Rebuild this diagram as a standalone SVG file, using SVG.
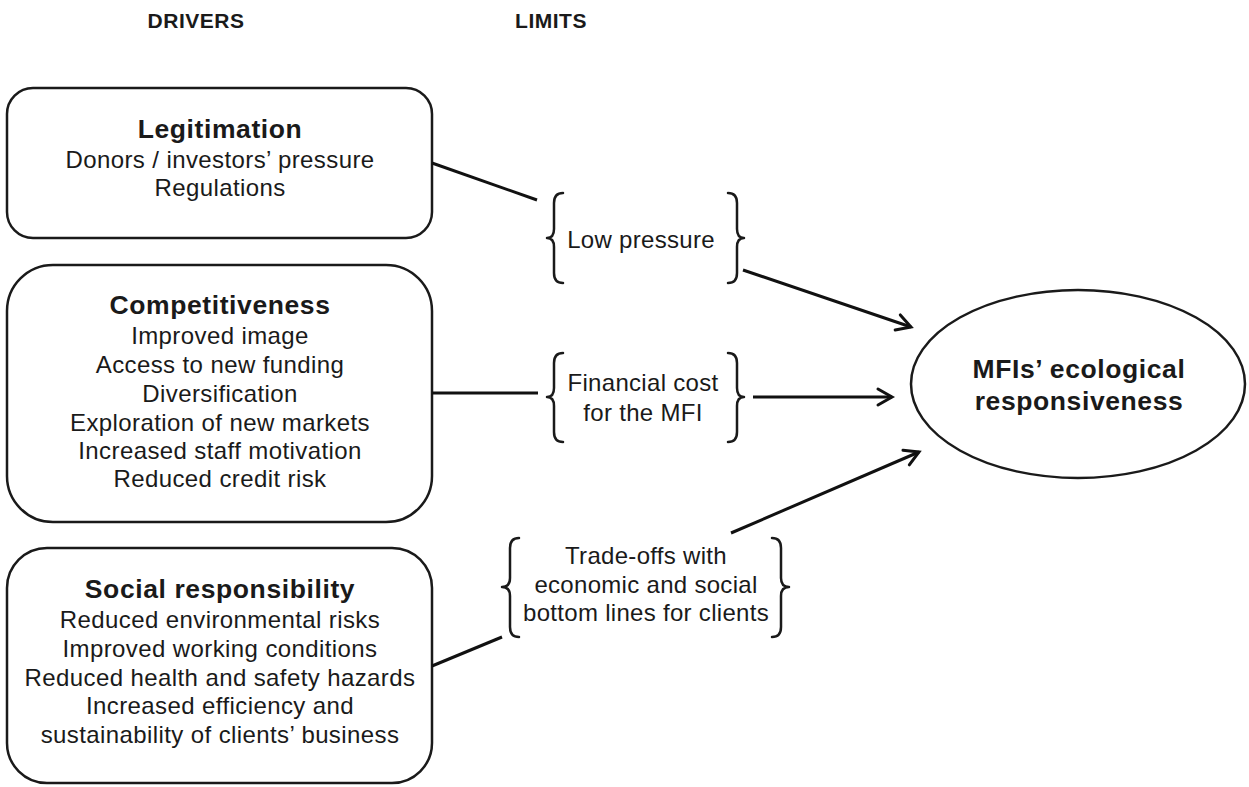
<svg xmlns="http://www.w3.org/2000/svg" width="1249" height="787" viewBox="0 0 1249 787">
  <style>
    .box { fill: #ffffff; stroke: #1a1a1a; stroke-width: 2.5; }
    .brace { fill: none; stroke: #1a1a1a; stroke-width: 2.5; stroke-linecap: round; stroke-linejoin: round; }
    .conn { fill: none; stroke: #111111; stroke-width: 3; }
    text { font-family: "Liberation Sans", Arial, sans-serif; fill: #1a1a1a; text-anchor: middle; }
    .head { font-size: 21px; font-weight: bold; letter-spacing: 0.5px; }
    .title { font-size: 26.5px; font-weight: bold; letter-spacing: 0.6px; }
    .body { font-size: 24px; letter-spacing: 0.4px; }
    .limit { font-size: 24px; letter-spacing: 0.3px; }
    .goal { font-size: 26.5px; font-weight: bold; letter-spacing: 0.6px; }
  </style>
  <defs>
    <marker id="arrow" markerUnits="userSpaceOnUse" markerWidth="24" markerHeight="24" viewBox="-20 -12 24 24" refX="0" refY="0" orient="auto">
      <path d="M -14 -8 L 0 0 L -14 8" fill="none" stroke="#111111" stroke-width="3" stroke-linecap="round" stroke-linejoin="miter"/>
    </marker>
  </defs>

  <rect width="1249" height="787" fill="#ffffff"/>

  <!-- column headings -->
  <text class="head" x="196" y="28">DRIVERS</text>
  <text class="head" x="551" y="28">LIMITS</text>

  <!-- drivers -->
  <g id="legitimation">
    <rect class="box" x="7" y="88" width="425" height="150" rx="26" ry="26"/>
    <text class="title" x="220" y="138">Legitimation</text>
    <text class="body" x="220" y="168">Donors / investors’ pressure</text>
    <text class="body" x="220" y="196">Regulations</text>
  </g>

  <g id="competitiveness">
    <rect class="box" x="7" y="265" width="425" height="257" rx="46" ry="46"/>
    <text class="title" x="220" y="314">Competitiveness</text>
    <text class="body" x="220" y="344">Improved image</text>
    <text class="body" x="220" y="373">Access to new funding</text>
    <text class="body" x="220" y="402">Diversification</text>
    <text class="body" x="220" y="431">Exploration of new markets</text>
    <text class="body" x="220" y="459">Increased staff motivation</text>
    <text class="body" x="220" y="487">Reduced credit risk</text>
  </g>

  <g id="social-responsibility">
    <rect class="box" x="7" y="548" width="425" height="235" rx="40" ry="40"/>
    <text class="title" x="220" y="598">Social responsibility</text>
    <text class="body" x="220" y="628">Reduced environmental risks</text>
    <text class="body" x="220" y="657">Improved working conditions</text>
    <text class="body" x="220" y="686">Reduced health and safety hazards</text>
    <text class="body" x="220" y="714">Increased efficiency and</text>
    <text class="body" x="220" y="743">sustainability of clients’ business</text>
  </g>

  <!-- limits -->
  <g id="low-pressure">
    <path class="brace" d="M 563 193 Q 554 193 554 203 L 554 229 Q 554 238 547 238 Q 554 238 554 247 L 554 273 Q 554 283 563 283"/>
    <path class="brace" d="M 728 193 Q 737 193 737 203 L 737 229 Q 737 238 744 238 Q 737 238 737 247 L 737 273 Q 737 283 728 283"/>
    <text class="limit" x="641" y="248">Low pressure</text>
  </g>

  <g id="financial-cost">
    <path class="brace" d="M 563 353 Q 554 353 554 363 L 554 388 Q 554 397 547 397 Q 554 397 554 406 L 554 432 Q 554 442 563 442"/>
    <path class="brace" d="M 728 353 Q 737 353 737 363 L 737 388 Q 737 397 744 397 Q 737 397 737 406 L 737 432 Q 737 442 728 442"/>
    <text class="limit" x="643" y="391">Financial cost</text>
    <text class="limit" x="643" y="421">for the MFI</text>
  </g>

  <g id="trade-offs">
    <path class="brace" d="M 519 538 Q 510 538 510 548 L 510 578 Q 510 587 502 587 Q 510 587 510 596 L 510 627 Q 510 637 519 637"/>
    <path class="brace" d="M 772 538 Q 781 538 781 548 L 781 578 Q 781 587 789 587 Q 781 587 781 596 L 781 627 Q 781 637 772 637"/>
    <text class="limit" x="646" y="564">Trade-offs with</text>
    <text class="limit" x="646" y="593">economic and social</text>
    <text class="limit" x="646" y="621">bottom lines for clients</text>
  </g>

  <!-- outcome -->
  <g id="ecological-responsiveness">
    <ellipse class="box" cx="1078" cy="384" rx="167" ry="94"/>
    <text class="goal" x="1079" y="378">MFIs’ ecological</text>
    <text class="goal" x="1079" y="410">responsiveness</text>
  </g>

  <!-- connectors -->
  <g id="connectors">
    <line class="conn" x1="432" y1="163" x2="537" y2="200"/>
    <line class="conn" x1="743" y1="270" x2="911" y2="327" marker-end="url(#arrow)"/>
    <line class="conn" x1="432" y1="393" x2="538" y2="393"/>
    <line class="conn" x1="753" y1="397" x2="892" y2="397" marker-end="url(#arrow)"/>
    <line class="conn" x1="432" y1="666" x2="502" y2="637"/>
    <line class="conn" x1="731" y1="533" x2="919" y2="452" marker-end="url(#arrow)"/>
  </g>
</svg>
